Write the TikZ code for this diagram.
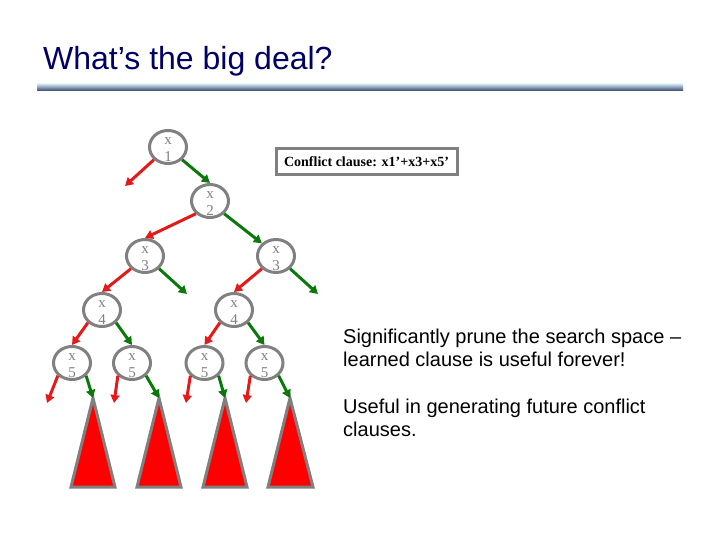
\documentclass[tikz,border=0pt]{standalone}
\usepackage{fontspec}
\setmainfont{Liberation Sans}
\newfontfamily\serifnode{Liberation Serif}
\usetikzlibrary{arrows.meta,shapes.geometric}
\definecolor{titleblue}{HTML}{000066}
\definecolor{nodegray}{HTML}{808080}
\definecolor{arrred}{HTML}{E41A1A}
\definecolor{arrgreen}{HTML}{0B780B}
\definecolor{rulelight}{HTML}{CFE3EC}
\definecolor{ruledark}{HTML}{34426E}
\tikzset{
  varnode/.style={ellipse,draw=nodegray,line width=3pt,minimum width=37pt,minimum height=33pt,inner sep=0pt},
  varlabel/.style={font=\serifnode\fontsize{15}{17}\selectfont,text=nodegray,align=center,yshift=-3pt},
  redarr/.style={draw=arrred,line width=3pt,-{Triangle[length=8pt,width=9pt]}},
  greenarr/.style={draw=arrgreen,line width=3pt,-{Triangle[length=8pt,width=9pt]}},
  subtree/.style={fill=red,draw=nodegray,line width=3pt,line join=miter},
  bodytext/.style={font=\fontsize{20}{23.5}\selectfont,align=left,anchor=base west,inner sep=0pt}
}
\newcommand{\vnode}[3]{\node[varnode,label={[varlabel]center:x\\#3}] (#1) at #2 {};}
\begin{document}
\begin{tikzpicture}[x=1pt,y=-1pt]
\useasboundingbox (0,0) rectangle (720,540);
% title
\node[anchor=base west,inner sep=0pt,text=titleblue,font=\fontsize{32}{38}\selectfont] (title) at (43,70) {What’s the big deal?};
\shade[top color=rulelight,bottom color=ruledark] (37,84) rectangle (683,91);
% tree nodes
\vnode{xa}{(168,147)}{1}
\vnode{xb}{(210,201)}{2}
\vnode{xc}{(145,256)}{3}
\vnode{xd}{(276,256)}{3}
\vnode{xe}{(102,310)}{4}
\vnode{xf}{(234,310)}{4}
\vnode{xg}{(72,363)}{5}
\vnode{xh}{(132,363)}{5}
\vnode{xi}{(204.5,363)}{5}
\vnode{xj}{(264.5,363)}{5}
% conflict clause box
\node[draw=nodegray,line width=3pt,minimum width=181pt,minimum height=26pt,inner sep=0pt,font=\serifnode\bfseries\fontsize{14}{16}\selectfont] (conf) at (366.5,162) {Conflict clause: x1’+x3+x5’};
% free ends
\coordinate (fa) at (125,186);
\coordinate (fc) at (187,294);
\coordinate (fd) at (318,294);
\coordinate (fg) at (47,403);
\coordinate (fh) at (114,403);
\coordinate (fi) at (186,403);
\coordinate (fj) at (246,403);
% subtree triangle apices
\coordinate (ta) at (93,398);
\coordinate (tb) at (159,398);
\coordinate (tc) at (225,398);
\coordinate (td) at (290,398);
% subtrees
\path[subtree] (ta) -- (71,487) -- (115,487) -- cycle;
\path[subtree] (tb) -- (137,487) -- (181,487) -- cycle;
\path[subtree] (tc) -- (203,487) -- (247,487) -- cycle;
\path[subtree] (td) -- (268,487) -- (313,487) -- cycle;
% connectors
\draw[redarr] (xa.south west) -- (fa);
\draw[greenarr] (xa.south east) -- (xb.north);
\draw[redarr] (xb.south west) -- (xc.north);
\draw[greenarr] (xb.south east) -- (xd.north west);
\draw[redarr] (xc.south west) -- (xe.north);
\draw[greenarr] (xc.south east) -- (fc);
\draw[redarr] (xd.south west) -- (xf.north);
\draw[greenarr] (xd.south east) -- (fd);
\draw[redarr] (xe.south west) -- (xg.north);
\draw[greenarr] (xe.south east) -- (xh.north);
\draw[redarr] (xf.south west) -- (xi.north);
\draw[greenarr] (xf.south east) -- (xj.north);
\draw[redarr] (xg.south west) -- (fg);
\draw[greenarr] (xg.south east) -- (ta);
\draw[redarr] (xh.south west) -- (fh);
\draw[greenarr] (xh.south east) -- (tb);
\draw[redarr] (xi.south west) -- (fi);
\draw[greenarr] (xi.south east) -- (tc);
\draw[redarr] (xj.south west) -- (fj);
\draw[greenarr] (xj.south east) -- (td);
% right text
\node[bodytext] (txta) at (343,366.5) {Significantly prune the search space –\\learned clause is useful forever!};
\node[bodytext] (txtb) at (343,436.5) {Useful in generating future conflict\\clauses.};
\end{tikzpicture}
\end{document}
